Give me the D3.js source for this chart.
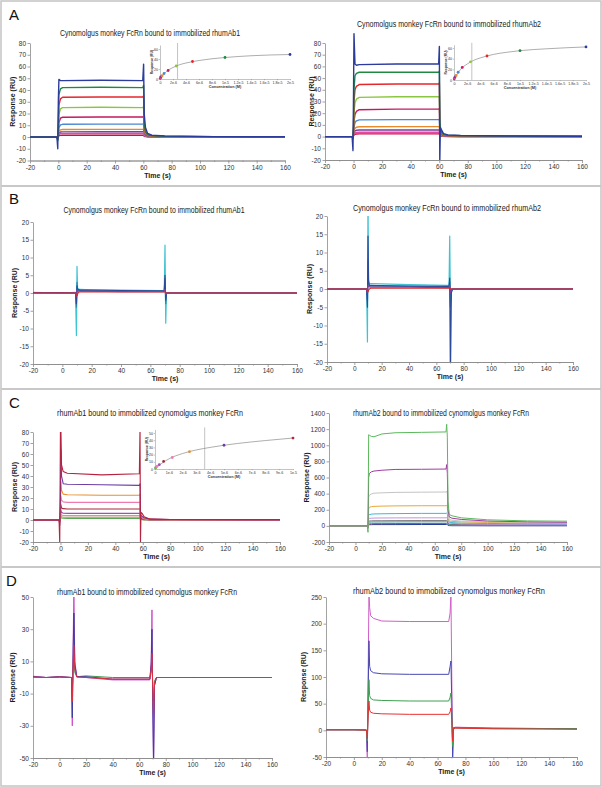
<!DOCTYPE html>
<html><head><meta charset="utf-8">
<script src="https://cdn.jsdelivr.net/npm/d3@7"></script>
<style>
body{margin:0;background:#fff}
svg{display:block}
text{font-family:"Liberation Sans",Arial,sans-serif}
.ax path,.ax line{stroke:#8a8a8a;stroke-width:0.8}
.ax text{font-size:6.5px;fill:#333}
.ix path,.ix line{stroke:#888;stroke-width:0.5}
.ix text{font-size:3.6px;fill:#333}
</style>
</head><body><svg id="fig" width="602" height="787"></svg>
<script>
// ---------- tick labels ----------
const xTicks = [-20,0,20,40,60,80,100,120,140,160];
const xMinor = [-10,10,30,50,70,90,110,130,150];
const yTicksA = [-20,-10,0,10,20,30,40,50,60,70,80];
const yTicksB = [-20,-15,-10,-5,0,5,10,15,20];
const yTicksC1 = [-20,-10,0,10,20,30,40,50,60,70,80];
const yTicksC2 = [-200,0,200,400,600,800,1000,1200,1400];
const yTicksD1 = [-50,-30,-10,10,30,50];
const yTicksD2 = [-50,0,50,100,150,200,250];

// ---------- Panel A left ----------
const tA1 = [-20,-1,-0.4,0,0.4,1.5,3,30,59.6,60.2,60.6,61.5,63,66,75,110,160];
const vA1 = [
  [0,0,-10,30,49,48,48,48.3,48,62,20,8,3,1.5,0.8,0.3,0.2],
  [0,0,-3,10,36,41,42,42.3,42,44,12,5,2.2,1.2,0.6,0.3,0.2],
  [0,0,-2,8,27,32.5,33.8,34,34,35,9,4,1.8,1,0.5,0.2,0.1],
  [0,0,-1.5,6,19,24,25,25.3,25,26,7,3,1.5,0.8,0.4,0.2,0.1],
  [0,0,-1,4,12,16,16.8,17,17,17.5,5,2,1,0.6,0.3,0.1,0.1],
  [0,0,-1,3,8,10.3,10.8,11,11,11.2,3,1.4,0.7,0.4,0.2,0.1,0],
  [0,0,-0.5,2,5,6.1,6.4,6.5,6.5,6.6,2,1,0.5,0.3,0.2,0.1,0],
  [0,0,-0.5,1,3.4,4.2,4.4,4.5,4.5,4.6,1.5,0.7,0.4,0.2,0.1,0,0],
  [0,0,-0.5,1,2.2,2.8,2.9,3,3,3.1,1,0.5,0.3,0.2,0.1,0,0],
  [0,0,-0.5,0.5,1.1,1.4,1.5,1.5,1.5,1.6,0.6,0.3,0.2,0.1,0,0,0]
];
// ---------- Panel A right ----------
const tA2 = [-20,-1,-0.4,0,0.3,1,2,4,30,59.6,60.1,60.4,60.8,61.5,63,66,75,110,160];
const vA2 = [
  [0,0,-12,40,88,62,61,61.5,62,62,77,-22,8,6,2.5,1.5,1,0.5,0.3],
  [0,0,-2,10,40,52,54,55,55,55,56,15,7,4,2,1.2,0.8,0.4,0.2],
  [0,0,-1.5,8,30,40,43,44.5,45,45,46,12,6,3.5,1.8,1,0.6,0.3,0.2],
  [0,0,-1,6,20,29,32,33.5,34,34,34.5,9,5,3,1.5,0.8,0.5,0.3,0.2],
  [0,0,-1,4,13,19,21.5,23,23.5,23.5,24,6,3.5,2,1,0.6,0.4,0.2,0.1],
  [0,0,-0.5,3,8,12,13.5,14.3,14.5,14.5,14.8,4,2.5,1.5,0.8,0.5,0.3,0.2,0.1],
  [0,0,-0.5,2,5,7,8,8.4,8.5,8.5,8.6,2.5,1.5,1,0.5,0.3,0.2,0.1,0],
  [0,0,-0.3,1.5,3.5,4.8,5.4,5.6,5.7,5.7,5.8,1.8,1.2,0.8,0.4,0.2,0.1,0.1,0],
  [0,0,-0.3,1,2.3,3.1,3.5,3.7,3.7,3.7,3.8,1.2,0.8,0.5,0.3,0.2,0.1,0,0],
  [0,0,-0.2,0.6,1.4,2,2.2,2.3,2.3,2.3,2.4,0.8,0.5,0.3,0.2,0.1,0.1,0,0]
];
// ---------- A insets (steady state) ----------
const concA = [3.9e-8,7.8e-8,1.56e-7,3.125e-7,6.25e-7,1.25e-6,2.5e-6,5e-6,1e-5,2e-5];
const respA1 = [1.5,3,4.5,6.5,11,17,26,35,43,49];
const respA2 = [2.3,3.7,5.7,8.5,14.5,23.5,34,45,55,62];
const fitAx = [0,1e-6,2e-6,3e-6,4e-6,6e-6,8e-6,1e-5,1.4e-5,2e-5];
const fitA1y = [0,15,23,28.5,32,37,40.5,43,46.5,49];
const fitA2y = [0,20,30,37,41.5,48,52,55,58.5,62];
const kdA1 = 2.7e-6, kdA2 = 2.7e-6;
const insetXA = [0,2e-6,4e-6,6e-6,8e-6,1e-5,1.2e-5,1.4e-5,1.6e-5,1.8e-5,2e-5];
const insetXALab = ['0','2e-6','4e-6','6e-6','8e-6','1e-5','1.2e-5','1.4e-5','1.6e-5','1.8e-5','2e-5'];
const insetYA = [0,20,40,60];

// ---------- Panel B ----------
const tB1 = [-20,0,9,9.6,10,10.4,11,12,20,40,68,69.5,70,70.5,71,72,100,160];
const vB1 = [
  [0.2,0,0.2,-12,7.5,1,1.2,1,0.9,0.8,0.7,0.7,13.5,-8.5,0,0,0.1,0],
  [0,0.1,0,-4,3,0.5,0.7,0.7,0.6,0.5,0.5,0.5,4,-3,0,0,0,0],
  [0.1,0.1,0,-3,2,0.8,1,0.8,0.8,0.7,0.6,0.6,5,-2,0,0,0,0],
  [0,0,0,-1,1,0.5,0.5,0.5,0.5,0.4,0.4,0.4,1,-0.5,0,0,0,0],
  [0,0,0,-0.5,-0.8,-0.3,0.2,0.3,0.3,0.3,0.3,0.3,0.5,0,0,0,0,0]
];
const tB2 = [-20,0,9,9.6,10,10.4,11,12,20,40,68,69.3,69.8,70.3,71,72,100,160];
const vB2 = [
  [0,0,0,-14.5,25,2.5,1.5,1.5,1.4,1.2,1,1,14.5,-4,-0.5,0,0,0],
  [0,0,0,-3,8,1.5,0.8,0.8,0.8,0.7,0.6,0.6,2,-5,0,0,0,0],
  [0,0,0,-5,14.5,2,1,1,0.9,0.8,0.7,0.7,3,-25,-1,0,0,0],
  [0,0,0,-1,1,0.8,0.6,0.5,0.5,0.5,0.4,0.4,1,-1,0,0,0,0],
  [0,0,0,-0.5,-0.8,-0.3,0,0.2,0.2,0.2,0.2,0.2,0.3,0,0,0,0,0]
];

// ---------- Panel C left ----------
const tC1 = [-20,-1,-0.5,0,0.3,0.8,2,5,30,57.5,58,58.3,58.7,59.5,61,65,80,160];
const vC1 = [
  [0,0,-22,85,85,50,44,42.5,41,42,85,-22,7,6,3,1,0.5,0.3],
  [0,0,-5,20,64,40,33,32.5,32,31.5,33,5,4,3.5,2,0.8,0.4,0.2],
  [0,0,-3,12,35,27,23.5,23,22.5,22.5,23.5,4,3,2.5,1.5,0.6,0.3,0.2],
  [0,0,-2,8,22,18,16.5,16,16,16,16.5,3,2.5,2,1,0.5,0.2,0.1],
  [0,0,-1,5,14,11,10.3,10,10,10,10.3,2,1.5,1.2,0.7,0.3,0.2,0.1],
  [0,0,-1,3,9,7,6.2,6,6,6,6.2,1.5,1.2,1,0.5,0.2,0.1,0],
  [0,0,-0.5,2,6,4.5,4.1,4,4,4,4.1,1,0.8,0.6,0.3,0.2,0.1,0],
  [0,0,-0.5,1,4,3,2.6,2.5,2.5,2.5,2.6,0.7,0.5,0.4,0.2,0.1,0,0],
  [0,0,-0.3,0.5,2.5,1.8,1.6,1.5,1.5,1.5,1.6,0.5,0.4,0.3,0.1,0,0,0]
];
const concC = [3.9e-8,7.8e-8,1.56e-7,3.125e-7,6.25e-7,1.25e-6,2.5e-6,5e-6,1e-5];
const respC1 = [1.5,2.5,4,6,10.5,16,24,33,43];
const fitCx = [0,2.5e-7,5e-7,1e-6,2e-6,3e-6,4e-6,5e-6,6e-6,8e-6,1e-5];
const fitC1y = [0,4.5,8,14,21.5,26.5,30,33,35.5,39.5,43];
const kdC1 = 3.6e-6;
const insetXC = [0,1e-6,2e-6,3e-6,4e-6,5e-6,6e-6,7e-6,8e-6,9e-6,1e-5];
const insetXCLab = ['0','1e-6','2e-6','3e-6','4e-6','5e-6','6e-6','7e-6','8e-6','9e-6','1e-5'];
const insetYC = [0,10,20,30,40,50];

// ---------- Panel C right ----------
const tC2 = [-20,9,9.5,10,10.5,12,14,20,30,50,68.5,69,69.5,70,71,73,80,100,130,160];
const vC2 = [
  [0,0,-80,1130,1125,1110,1105,1140,1155,1160,1165,1260,1100,300,140,125,100,75,62,58],
  [0,0,-30,600,650,670,680,690,700,702,705,760,650,200,110,95,80,60,50,45],
  [0,0,-20,350,380,395,405,410,415,418,420,430,400,150,80,70,60,50,45,40],
  [0,0,-10,210,230,238,242,245,248,250,250,255,240,90,60,55,50,42,38,35],
  [0,0,-5,130,140,145,148,150,152,155,155,158,150,70,45,40,35,30,27,25],
  [0,0,-5,85,92,95,97,98,99,100,100,102,95,50,35,30,25,22,20,18],
  [0,0,-3,55,60,62,63,63,64,65,65,66,62,30,20,18,16,14,13,12],
  [0,0,-3,40,45,47,48,48,49,50,50,51,48,20,14,12,10,9,8,8],
  [0,0,-2,20,25,27,28,28,29,30,30,31,29,10,8,6,5,4,4,4],
  [0,0,-2,12,14,15,16,16,16,17,17,18,16,5,3,2,2,1,1,1]
];

// ---------- Panel D ----------
const tD1 = [-20,-10,0,9,9.6,10.2,10.8,11.5,13,20,40,68,69,69.6,70.2,70.8,71.5,73,100,160];
const vD1 = [
  [0.8,0,0.5,0,-30,20,55,10,0.5,0,-1.5,-1.5,10,42,-20,-55,-5,0,0,0],
  [0.5,0,0.5,0,-25,15,40,8,0.5,0.5,-1,-1,8,30,-15,-55,-5,0,0,0],
  [0.3,0,0.3,0,-15,8,20,5,0.3,0,-1,-1,5,15,-8,-25,-3,0,0,0],
  [0.2,0,0.2,0,-10,5,12,3,0.5,1,0,0,3,10,-5,-15,-2,0,0,0]
];
const tD2 = [-20,0,9,9.6,10.2,10.8,11.3,12,14,20,40,68,69,69.6,70.2,70.8,71.5,73,100,160];
const vD2 = [
  [1,1,0.5,-50,100,260,230,215,210,205,204,204,220,255,100,-50,5,6,4,3],
  [1,1,0.5,-40,60,168,120,112,108,106,105,105,120,130,50,-50,5,5,4,3],
  [1,1,0.5,-20,40,95,65,60,57,56,55,55,62,70,30,-30,4,5,3,3],
  [1,1,0.5,-15,25,55,38,34,32,31,30,30,35,42,20,-20,3,4,3,2]
];

// ---------- titles ----------
const titleA1 = "Cynomolgus monkey FcRn bound to immobilized rhumAb1";
const titleA2 = "Cynomolgus monkey FcRn bound to immobilized rhumAb2";
const titleC1 = "rhumAb1 bound to immobilized cynomolgus monkey FcRn";
const titleC2 = "rhumAb2 bound to immobilized cynomolgus monkey FcRn";

// ---------- colours ----------
const palA = ['#2b3c9c','#1f8a3f','#e5262b','#8cc63f','#c41a5e','#4a88d4','#e8892a','#7d3b9e','#e64aa0','#c8143c'];
const palB = ['#3ec3d3','#2a88a8','#2c4a9c','#8040a0','#e02828'];
const palC1 = ['#b52340','#6a3ca4','#e8902c','#ef7ab0','#a82838','#a050b0','#f07cc4','#a8a83c','#58a858'];
const palC2 = ['#5cb85c','#a03ca0','#c4c4c4','#e8a838','#38b8d8','#c890e0','#707070','#48a8a0','#e83838','#283c9c'];
const palD1 = ['#c850c8','#3c3ca0','#e03040','#409850'];
const palD2 = ['#d060c8','#4848b0','#40a050','#e83030'];

// ================= drawing =================
const svg = d3.select('#fig');
const defs = svg.append('defs');
svg.append('rect').attr('x',1).attr('y',1).attr('width',600).attr('height',785)
  .attr('fill','none').attr('stroke','#c4c4c4').attr('stroke-width',1.5);
[186,389,567].forEach(yy => svg.append('line').attr('x1',1).attr('x2',601).attr('y1',yy).attr('y2',yy)
  .attr('stroke','#c8c8c8').attr('stroke-width',2));
[['A',9,20],['B',9,204],['C',9,408],['D',6,586]].forEach(([s,xx,yy]) =>
  svg.append('text').attr('x',xx).attr('y',yy).attr('font-size',15).attr('fill','#111').text(s));

function panel(o){
  const x = d3.scaleLinear().domain([-20,160]).range([o.x0,o.x1]);
  const y = d3.scaleLinear().domain(o.yd).range([o.yB,o.yT]);
  const g = svg.append('g');
  const id = 'clip'+o.id;
  defs.append('clipPath').attr('id',id).append('rect')
    .attr('x',o.x0).attr('y',o.yT-(o.over||0)).attr('width',o.x1-o.x0+1).attr('height',o.yB-o.yT+(o.over||0));
  g.append('g').attr('class','ax').attr('transform',`translate(0,${o.yB})`)
    .call(d3.axisBottom(x).tickValues(xMinor).tickSize(1.5).tickSizeOuter(0).tickFormat(''));
  g.append('g').attr('class','ax').attr('transform',`translate(0,${o.yB})`)
    .call(d3.axisBottom(x).tickValues(xTicks).tickSize(3).tickSizeOuter(0).tickPadding(1.5).tickFormat(d=>String(d)));
  g.append('g').attr('class','ax').attr('transform',`translate(${o.x0},0)`)
    .call(d3.axisLeft(y).tickValues(o.yt).tickSize(2.5).tickSizeOuter(0).tickPadding(1.5).tickFormat(d=>String(d)));
  const line = d3.line().x(d=>x(d[0])).y(d=>y(d[1]));
  const lg = g.append('g').attr('clip-path',`url(#${id})`);
  o.order.forEach(i => lg.append('path')
    .attr('d', line(o.t.map((tt,j)=>[tt,o.v[i][j]])))
    .attr('fill','none').attr('stroke',o.col[i]).attr('stroke-width',o.lw||1.1)
    .attr('stroke-linejoin','round'));
  g.append('text').attr('x',o.tx).attr('y',o.ty+3).attr('text-anchor','middle')
    .attr('font-size',8.2).attr('fill','#1a1a1a').attr('textLength',o.tw).attr('lengthAdjust','spacingAndGlyphs')
    .text(o.title);
  g.append('text').attr('x',(o.x0+o.x1)/2).attr('y',o.yB+17).attr('text-anchor','middle')
    .attr('font-size',7).attr('font-weight','bold').attr('fill','#1a1a1a').text('Time (s)');
  g.append('text').attr('transform',`translate(${o.lx},${(o.yT+o.yB)/2}) rotate(-90)`)
    .attr('text-anchor','middle').attr('dy','0.35em')
    .attr('font-size',7).attr('font-weight','bold').attr('fill','#1a1a1a').text('Response (RU)');
}

function inset(o){
  const x = d3.scaleLinear().domain([0,o.xmax]).range([o.x0,o.x1]);
  const y = d3.scaleLinear().domain([0,o.ymax]).range([o.yB,o.yT]);
  const g = svg.append('g');
  g.append('g').attr('class','ix').attr('transform',`translate(0,${o.yB})`)
    .call(d3.axisBottom(x).tickValues(o.xt).tickSize(1.2).tickSizeOuter(0).tickPadding(0.8)
      .tickFormat((d,i)=>o.xl[i]));
  g.append('g').attr('class','ix').attr('transform',`translate(${o.x0},0)`)
    .call(d3.axisLeft(y).tickValues(o.yt).tickSize(1.2).tickSizeOuter(0).tickPadding(0.8)
      .tickFormat(d=>String(d)));
  g.append('line').attr('x1',x(o.kd)).attr('x2',x(o.kd)).attr('y1',o.yB).attr('y2',o.yT-2)
    .attr('stroke','#888').attr('stroke-width',0.5);
  const line = d3.line().x(d=>x(d[0])).y(d=>y(d[1])).curve(d3.curveMonotoneX);
  g.append('path').attr('d',line(o.fx.map((v,i)=>[v,o.fy[i]])))
    .attr('fill','none').attr('stroke','#777').attr('stroke-width',0.6);
  const n = o.conc.length;
  g.selectAll('circle.p').data(o.conc).join('circle')
    .attr('cx',d=>x(d)).attr('cy',(d,i)=>y(o.resp[i])).attr('r',1.4)
    .attr('fill',(d,i)=>o.col[n-1-i]);
  g.append('text').attr('x',(o.x0+o.x1)/2).attr('y',o.yB+8.5).attr('text-anchor','middle')
    .attr('font-size',3.8).attr('font-weight','bold').attr('fill','#333').text('Concentration (M)');
  g.append('text').attr('transform',`translate(${o.x0-7},${(o.yT+o.yB)/2}) rotate(-90)`)
    .attr('text-anchor','middle').attr('font-size',3.4).attr('font-weight','bold').attr('fill','#333')
    .text('Response (RU)');
}

const ord = n => d3.range(n).reverse();

panel({id:'A1',x0:30,x1:285,yT:43,yB:160.5,yd:[-20,80],yt:yTicksA,t:tA1,v:vA1,col:palA,order:ord(10),
  title:titleA1,tx:150,ty:33,tw:180,lx:13,lw:1.4});
panel({id:'A2',x0:325,x1:582,yT:43,yB:160,yd:[-20,80],yt:yTicksA,t:tA2,v:vA2,col:palA,order:ord(10),
  title:titleA2,tx:449,ty:24,tw:184,lx:312,lw:1.4,over:12});
inset({x0:160,x1:290,yB:79,yT:45,xmax:2e-5,ymax:68,xt:insetXA,xl:insetXALab,yt:insetYA,
  kd:kdA1,fx:fitAx,fy:fitA1y,conc:concA,resp:respA1,col:palA});
inset({x0:454,x1:586,yB:80,yT:44.8,xmax:2e-5,ymax:66,xt:insetXA,xl:insetXALab,yt:insetYA,
  kd:kdA2,fx:fitAx,fy:fitA2y,conc:concA,resp:respA2,col:palA});

panel({id:'B1',x0:33,x1:297,yT:222,yB:364,yd:[-20,20],yt:yTicksB,t:tB1,v:vB1,col:palB,order:[0,1,2,3,4],
  title:titleA1,tx:154,ty:210,tw:181,lx:15,lw:1.2});
panel({id:'B2',x0:327,x1:573,yT:216,yB:362,yd:[-20,20],yt:yTicksB,t:tB2,v:vB2,col:palB,order:[0,1,2,3,4],
  title:titleA2,tx:447,ty:208,tw:188,lx:310,lw:1.2});

panel({id:'C1',x0:33,x1:280,yT:432,yB:542,yd:[-20,80],yt:yTicksC1,t:tC1,v:vC1,col:palC1,order:ord(9),
  title:titleC1,tx:150,ty:413,tw:186,lx:15});
inset({x0:155,x1:293,yB:469,yT:429.4,xmax:1e-5,ymax:55,xt:insetXC,xl:insetXCLab,yt:insetYC,
  kd:kdC1,fx:fitCx,fy:fitC1y,conc:concC,resp:respC1,col:palC1});
panel({id:'C2',x0:329,x1:567,yT:413,yB:542,yd:[-200,1400],yt:yTicksC2,t:tC2,v:vC2,col:palC2,order:ord(10),
  title:titleC2,tx:441,ty:413,tw:176,lx:307,lw:1});

panel({id:'D1',x0:33,x1:272,yT:597,yB:758,yd:[-50,50],yt:yTicksD1,t:tD1,v:vD1,col:palD1,order:[3,0,1,2],
  title:titleC1,tx:147,ty:592,tw:180,lx:13,lw:1});
panel({id:'D2',x0:326,x1:577,yT:597,yB:757,yd:[-50,250],yt:yTicksD2,t:tD2,v:vD2,col:palD2,order:[0,1,2,3],
  title:titleC2,tx:449,ty:591,tw:192,lx:304,lw:1});
</script></body></html>
